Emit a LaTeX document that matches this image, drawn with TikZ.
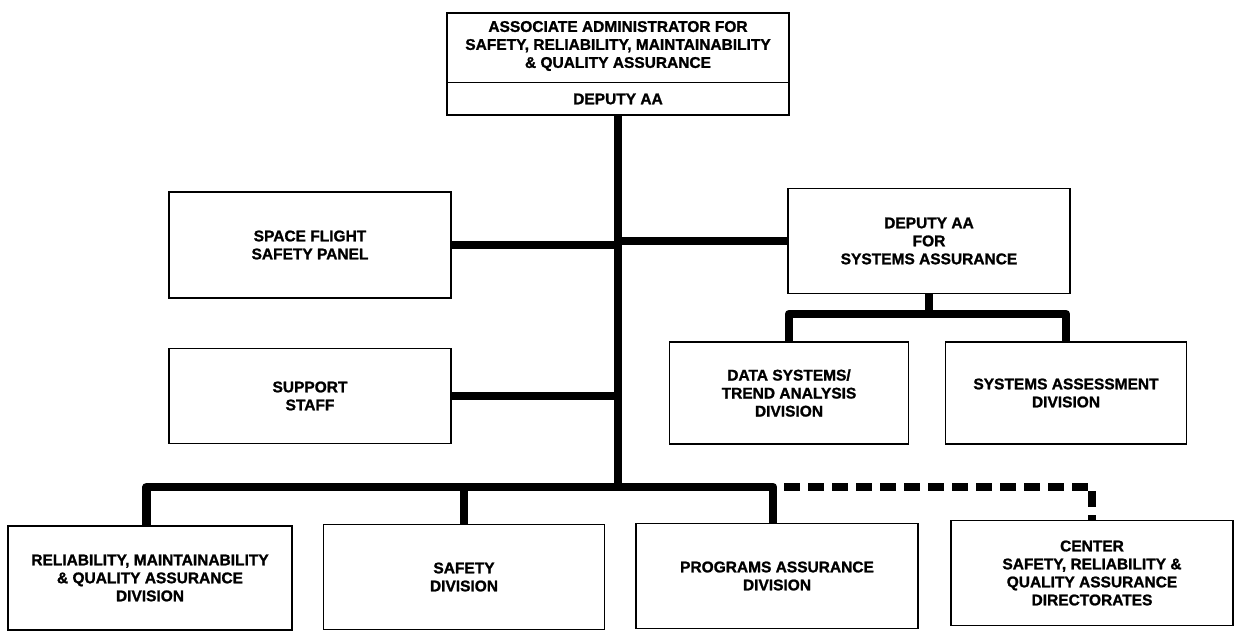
\documentclass[tikz,border=0pt]{standalone}
\usepackage{fontspec}
\setmainfont{Liberation Sans}[BoldFeatures={FakeBold=1.3}]
\begin{document}
\begin{tikzpicture}[x=1pt,y=-1pt,
  box/.style={draw, line width=1.3pt, rectangle, align=center, inner sep=0pt,
    font=\bfseries\fontsize{15.5}{18}\selectfont},
  label/.style={align=center, inner sep=0pt, font=\bfseries\fontsize{15.5}{18}\selectfont},
  conn/.style={line width=8.5pt, line join=round},
  dconn/.style={line width=8.5pt, dash pattern=on 16pt off 8pt, line join=round}]
\useasboundingbox (0,0) rectangle (1236,633);

% head office
\node[box, minimum width=342pt, minimum height=102pt] (top) at (618,64) {};
\node[label] (toptitle) at (618,46) {ASSOCIATE ADMINISTRATOR FOR\\SAFETY, RELIABILITY, MAINTAINABILITY\\\& QUALITY ASSURANCE};
\node[label] (topdep) at (618,99) {DEPUTY AA};
\draw[line width=0.8pt] (top.west |- 0,82) -- (top.east |- 0,82);

% staff level
\node[box, minimum width=282pt, minimum height=106pt] (sfp) at (310,245) {SPACE FLIGHT\\SAFETY PANEL};
\node[box, minimum width=282pt, minimum height=95pt] (sup) at (310,396) {SUPPORT\\STAFF};
\node[box, minimum width=282pt, minimum height=105pt] (dsa) at (929,241) {DEPUTY AA\\FOR\\SYSTEMS ASSURANCE};
\node[box, minimum width=239pt, minimum height=102pt] (dst) at (789,393) {DATA SYSTEMS/\\TREND ANALYSIS\\DIVISION};
\node[box, minimum width=241pt, minimum height=102pt] (sad) at (1066,393) {SYSTEMS ASSESSMENT\\DIVISION};

% divisions
\node[box, minimum width=284pt, minimum height=104pt] (rmq) at (150,578) {RELIABILITY, MAINTAINABILITY\\\& QUALITY ASSURANCE\\DIVISION};
\node[box, minimum width=281pt, minimum height=105pt] (sd) at (464,577) {SAFETY\\DIVISION};
\node[box, minimum width=282pt, minimum height=105pt] (pad) at (777,576) {PROGRAMS ASSURANCE\\DIVISION};
\node[box, minimum width=282pt, minimum height=105pt] (cen) at (1092,573) {CENTER\\SAFETY, RELIABILITY \&\\QUALITY ASSURANCE\\DIRECTORATES};

% junction points
\coordinate (bar) at (618,487);
\coordinate (sub) at (929,314);

% main trunk and branches
\draw[conn] (top.south) -- (bar);
\draw[conn] (sfp.east) -- (sfp.east -| bar);
\draw[conn] (sup.east) -- (sup.east -| bar);
\draw[conn] (bar |- dsa.west) -- (dsa.west);
\draw[conn] ([xshift=-3.6pt]rmq.north) -- ([xshift=-3.6pt]rmq.north |- bar) -- ([xshift=-4pt]pad.north |- bar) -- ([xshift=-4pt]pad.north);
\draw[conn] (sd.north) -- (sd.north |- bar);

% systems assurance branch
\draw[conn] (dsa.south) -- (sub);
\draw[conn] (dst.north) -- (dst.north |- sub) -- (sad.north |- sub) -- (sad.north);

% dotted-line relationship to the centers
\draw[dconn] ([xshift=7pt]pad.north |- bar) -- (cen.north |- bar) -- (cen.north);
\end{tikzpicture}
\end{document}
